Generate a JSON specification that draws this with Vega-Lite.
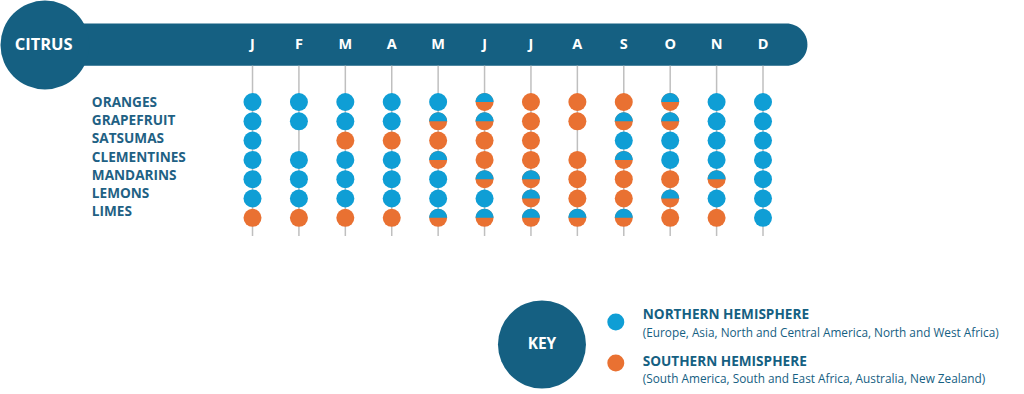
{
  "$schema": "https://vega.github.io/schema/vega-lite/v6.json",
  "width": 1024,
  "height": 394,
  "autosize": {"type": "fit", "contains": "padding"},
  "padding": 0,
  "background": "white",
  "config": {"view": {"stroke": null}, "font": "Open Sans"},
  "datasets": {
    "months": [
      {"m": 1, "letter": "J"}, {"m": 2, "letter": "F"}, {"m": 3, "letter": "M"}, {"m": 4, "letter": "A"},
      {"m": 5, "letter": "M"}, {"m": 6, "letter": "J"}, {"m": 7, "letter": "J"}, {"m": 8, "letter": "A"},
      {"m": 9, "letter": "S"}, {"m": 10, "letter": "O"}, {"m": 11, "letter": "N"}, {"m": 12, "letter": "D"}
    ],
    "fruits": [
      {"row": 1, "fruit": "ORANGES"}, {"row": 2, "fruit": "GRAPEFRUIT"}, {"row": 3, "fruit": "SATSUMAS"},
      {"row": 4, "fruit": "CLEMENTINES"}, {"row": 5, "fruit": "MANDARINS"}, {"row": 6, "fruit": "LEMONS"},
      {"row": 7, "fruit": "LIMES"}
    ],
    "cells": [
      {"row": 1, "m": 1, "s": "N"}, {"row": 1, "m": 2, "s": "N"}, {"row": 1, "m": 3, "s": "N"}, {"row": 1, "m": 4, "s": "N"},
      {"row": 1, "m": 5, "s": "N"}, {"row": 1, "m": 6, "s": "H"}, {"row": 1, "m": 7, "s": "S"}, {"row": 1, "m": 8, "s": "S"},
      {"row": 1, "m": 9, "s": "S"}, {"row": 1, "m": 10, "s": "H"}, {"row": 1, "m": 11, "s": "N"}, {"row": 1, "m": 12, "s": "N"},
      {"row": 2, "m": 1, "s": "N"}, {"row": 2, "m": 2, "s": "N"}, {"row": 2, "m": 3, "s": "N"}, {"row": 2, "m": 4, "s": "N"},
      {"row": 2, "m": 5, "s": "H"}, {"row": 2, "m": 6, "s": "H"}, {"row": 2, "m": 7, "s": "S"}, {"row": 2, "m": 8, "s": "S"},
      {"row": 2, "m": 9, "s": "H"}, {"row": 2, "m": 10, "s": "H"}, {"row": 2, "m": 11, "s": "N"}, {"row": 2, "m": 12, "s": "N"},
      {"row": 3, "m": 1, "s": "N"}, {"row": 3, "m": 3, "s": "S"}, {"row": 3, "m": 4, "s": "S"},
      {"row": 3, "m": 5, "s": "S"}, {"row": 3, "m": 6, "s": "S"}, {"row": 3, "m": 7, "s": "S"},
      {"row": 3, "m": 9, "s": "N"}, {"row": 3, "m": 10, "s": "N"}, {"row": 3, "m": 11, "s": "N"}, {"row": 3, "m": 12, "s": "N"},
      {"row": 4, "m": 1, "s": "N"}, {"row": 4, "m": 2, "s": "N"}, {"row": 4, "m": 3, "s": "N"}, {"row": 4, "m": 4, "s": "N"},
      {"row": 4, "m": 5, "s": "H"}, {"row": 4, "m": 6, "s": "S"}, {"row": 4, "m": 7, "s": "S"}, {"row": 4, "m": 8, "s": "S"},
      {"row": 4, "m": 9, "s": "H"}, {"row": 4, "m": 10, "s": "N"}, {"row": 4, "m": 11, "s": "N"}, {"row": 4, "m": 12, "s": "N"},
      {"row": 5, "m": 1, "s": "N"}, {"row": 5, "m": 2, "s": "N"}, {"row": 5, "m": 3, "s": "N"}, {"row": 5, "m": 4, "s": "N"},
      {"row": 5, "m": 5, "s": "N"}, {"row": 5, "m": 6, "s": "H"}, {"row": 5, "m": 7, "s": "H"}, {"row": 5, "m": 8, "s": "S"},
      {"row": 5, "m": 9, "s": "S"}, {"row": 5, "m": 10, "s": "S"}, {"row": 5, "m": 11, "s": "H"}, {"row": 5, "m": 12, "s": "N"},
      {"row": 6, "m": 1, "s": "N"}, {"row": 6, "m": 2, "s": "N"}, {"row": 6, "m": 3, "s": "N"}, {"row": 6, "m": 4, "s": "N"},
      {"row": 6, "m": 5, "s": "N"}, {"row": 6, "m": 6, "s": "N"}, {"row": 6, "m": 7, "s": "H"}, {"row": 6, "m": 8, "s": "S"},
      {"row": 6, "m": 9, "s": "S"}, {"row": 6, "m": 10, "s": "H"}, {"row": 6, "m": 11, "s": "N"}, {"row": 6, "m": 12, "s": "N"},
      {"row": 7, "m": 1, "s": "S"}, {"row": 7, "m": 2, "s": "S"}, {"row": 7, "m": 3, "s": "S"}, {"row": 7, "m": 4, "s": "S"},
      {"row": 7, "m": 5, "s": "H"}, {"row": 7, "m": 6, "s": "H"}, {"row": 7, "m": 7, "s": "H"}, {"row": 7, "m": 8, "s": "H"},
      {"row": 7, "m": 9, "s": "H"}, {"row": 7, "m": 10, "s": "S"}, {"row": 7, "m": 11, "s": "S"}, {"row": 7, "m": 12, "s": "N"}
    ]
  },
  "resolve": {"scale": {"y": "independent"}},
  "layer": [
    {
      "layer": [
        {
          "data": {"values": [{}]},
          "mark": {"type": "rect", "color": "#156082", "cornerRadius": 21},
          "encoding": {
            "x": {"datum": -3.108, "type": "quantitative", "scale": {"domain": [-4.398, 17.624], "nice": false, "zero": false}, "axis": null},
            "x2": {"datum": 12.957},
            "y": {"datum": -3.067, "type": "quantitative", "scale": {"domain": [-4.285, 16.13], "reverse": true, "nice": false, "zero": false}, "axis": null},
            "y2": {"datum": -0.881}
          }
        },
        {
          "data": {"values": [{}]},
          "mark": {"type": "point", "shape": "circle", "filled": true, "opacity": 1, "color": "#156082", "size": 7900},
          "encoding": {
            "x": {"datum": -3.473, "type": "quantitative"},
            "y": {"datum": -1.953, "type": "quantitative"}
          }
        },
        {
          "data": {"values": [{}]},
          "mark": {"type": "text", "text": "CITRUS", "color": "white", "fontWeight": "bold", "fontSize": 16.5, "font": "Open Sans"},
          "encoding": {
            "x": {"datum": -3.5, "type": "quantitative"},
            "y": {"datum": -1.953, "type": "quantitative"}
          }
        },
        {
          "data": {"name": "months"},
          "mark": {"type": "text", "color": "white", "fontWeight": "bold", "fontSize": 14.5, "font": "Open Sans"},
          "encoding": {
            "x": {"field": "m", "type": "quantitative"},
            "y": {"datum": -1.953, "type": "quantitative"},
            "text": {"field": "letter"}
          }
        },
        {
          "data": {"name": "months"},
          "mark": {"type": "rule", "color": "#BFBFBF", "strokeWidth": 1.5},
          "encoding": {
            "x": {"field": "m", "type": "quantitative"},
            "y": {"datum": -0.881, "type": "quantitative"},
            "y2": {"datum": 7.943}
          }
        },
        {
          "data": {"name": "cells"},
          "mark": {"type": "point", "shape": "circle", "filled": true, "opacity": 1, "size": 324},
          "encoding": {
            "x": {"field": "m", "type": "quantitative"},
            "y": {"field": "row", "type": "quantitative"},
            "color": {"field": "s", "type": "nominal", "scale": {"domain": ["N", "S", "H"], "range": ["#0F9ED5", "#E97132", "#E97132"]}, "legend": null}
          }
        },
        {
          "data": {"name": "cells"},
          "transform": [{"filter": "datum.s === 'H'"}],
          "mark": {"type": "point", "shape": "M -1 0 A 1 1 0 0 1 1 0 Z", "filled": true, "opacity": 1, "color": "#0F9ED5", "size": 324},
          "encoding": {
            "x": {"field": "m", "type": "quantitative"},
            "y": {"field": "row", "type": "quantitative"}
          }
        },
        {
          "data": {"values": [{}]},
          "mark": {"type": "point", "shape": "circle", "filled": true, "opacity": 1, "color": "#156082", "size": 7744},
          "encoding": {
            "x": {"datum": 7.237, "type": "quantitative"},
            "y": {"datum": 13.565, "type": "quantitative"}
          }
        },
        {
          "data": {"values": [{}]},
          "mark": {"type": "text", "text": "KEY", "color": "white", "fontWeight": "bold", "fontSize": 15.5, "font": "Open Sans"},
          "encoding": {
            "x": {"datum": 7.237, "type": "quantitative"},
            "y": {"datum": 13.565, "type": "quantitative"}
          }
        },
        {
          "data": {"values": [{}]},
          "mark": {"type": "point", "shape": "circle", "filled": true, "opacity": 1, "color": "#0F9ED5", "size": 289},
          "encoding": {
            "x": {"datum": 8.828, "type": "quantitative"},
            "y": {"datum": 12.399, "type": "quantitative"}
          }
        },
        {
          "data": {"values": [{}]},
          "mark": {"type": "point", "shape": "circle", "filled": true, "opacity": 1, "color": "#E97132", "size": 289},
          "encoding": {
            "x": {"datum": 8.828, "type": "quantitative"},
            "y": {"datum": 14.523, "type": "quantitative"}
          }
        },
        {
          "data": {"values": [{}]},
          "mark": {"type": "text", "text": "NORTHERN HEMISPHERE", "align": "left", "color": "#156082", "fontWeight": "bold", "fontSize": 13.6, "font": "Open Sans"},
          "encoding": {
            "x": {"datum": 9.409, "type": "quantitative"},
            "y": {"datum": 12.036, "type": "quantitative"}
          }
        },
        {
          "data": {"values": [{}]},
          "mark": {"type": "text", "text": "(Europe,  Asia, North and Central America, North and West Africa)", "align": "left", "color": "#156082", "fontSize": 11.8, "font": "Open Sans"},
          "encoding": {
            "x": {"datum": 9.409, "type": "quantitative"},
            "y": {"datum": 12.969, "type": "quantitative"}
          }
        },
        {
          "data": {"values": [{}]},
          "mark": {"type": "text", "text": "SOUTHERN HEMISPHERE", "align": "left", "color": "#156082", "fontWeight": "bold", "fontSize": 13.6, "font": "Open Sans"},
          "encoding": {
            "x": {"datum": 9.409, "type": "quantitative"},
            "y": {"datum": 14.472, "type": "quantitative"}
          }
        },
        {
          "data": {"values": [{}]},
          "mark": {"type": "text", "text": "(South America, South and East Africa, Australia, New Zealand)", "align": "left", "color": "#156082", "fontSize": 11.8, "font": "Open Sans"},
          "encoding": {
            "x": {"datum": 9.409, "type": "quantitative"},
            "y": {"datum": 15.378, "type": "quantitative"}
          }
        }
      ]
    },
    {
      "data": {"name": "fruits"},
      "mark": {"type": "text", "align": "left", "color": "#1F6184", "fontWeight": "bold", "fontSize": 13.6, "font": "Open Sans"},
      "encoding": {
        "x": {"datum": -2.462, "type": "quantitative"},
        "y": {"field": "row", "type": "quantitative", "scale": {"domain": [-4.669, 17.016], "reverse": true, "nice": false, "zero": false}, "axis": null},
        "text": {"field": "fruit"}
      }
    }
  ]
}
